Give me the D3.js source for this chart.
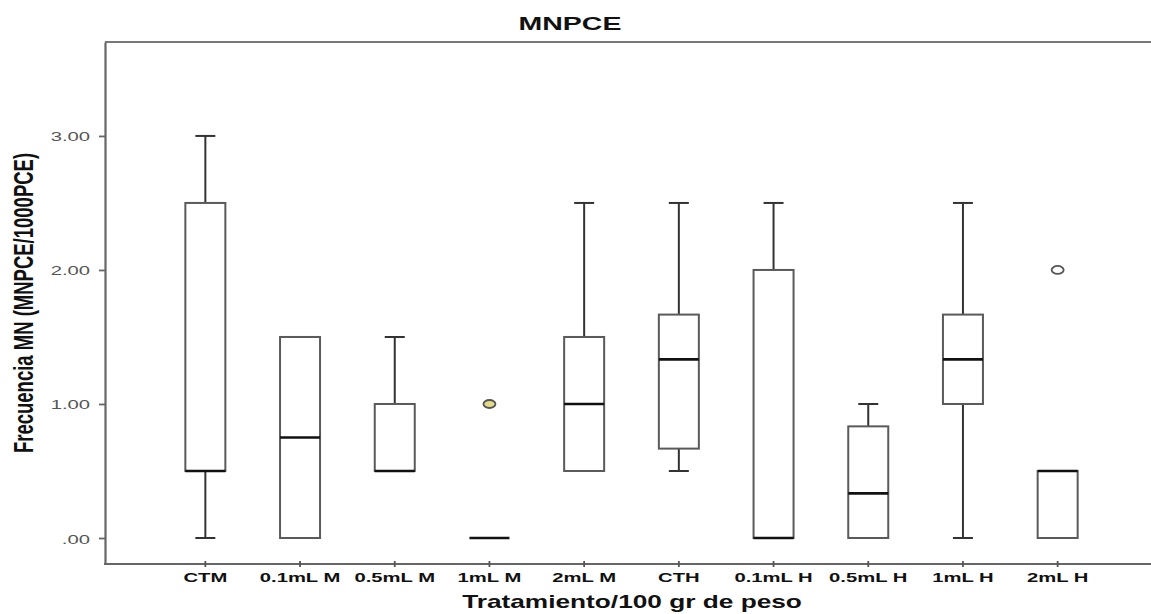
<!DOCTYPE html>
<html lang="es">
<head>
<meta charset="UTF-8">
<title>MNPCE</title>
<script src="https://d3js.org/d3.v7.min.js"></script>
<style>
  * { margin: 0; padding: 0; }
  body { background: #fff; font-family: Arial, 'Liberation Sans', sans-serif; }
  svg { display: block; }
</style>
</head>
<body>
<svg id="chart" width="1151" height="614"></svg>
<script>
// categorias y resumen de cada caja
const categories = ["CTM", "0.1mL M", "0.5mL M", "1mL M", "2mL M",
                    "CTH", "0.1mL H", "0.5mL H", "1mL H", "2mL H"];
const whiskerLow  = [0,   0,    0.5, 0, 0.5, 0.5,   0,   0,     0,     0];
const q1          = [0.5, 0,    0.5, 0, 0.5, 0.667, 0,   0,     1.0,   0];
const medians     = [0.5, 0.75, 0.5, 0, 1.0, 1.333, 0,   0.333, 1.333, 0.5];
const q3          = [2.5, 1.5,  1.0, 0, 1.5, 1.667, 2.0, 0.833, 1.667, 0.5];
const whiskerHigh = [3.0, 1.5,  1.5, 0, 2.5, 2.5,   2.5, 1.0,   2.5,   0.5];
// atipicos: [indice de categoria, valor]
const outliers = [[3, 1.0], [9, 2.0]];
const yTicks = [0, 1, 2, 3];
const yTickLabels = [".00", "1.00", "2.00", "3.00"];

const svg = d3.select("#chart");
const plotLeft = 105, plotTop = 42, plotBottom = 564, plotRight = 1151;
const stretch = 1.5; // la figura original esta estirada en horizontal

const y = d3.scaleLinear().domain([-0.194, 3.701]).range([plotBottom, plotTop]);
const x = d3.scaleBand().domain(categories).range([158, 1105]);
const cx = i => x(categories[i]) + x.bandwidth() / 2;
const boxW = 40, capW = 20;

// marco superior
svg.append("line").attr("x1", plotLeft).attr("x2", plotRight).attr("y1", plotTop).attr("y2", plotTop)
  .attr("stroke", "#777").attr("stroke-width", 2);

// eje Y
const gy = svg.append("g").attr("transform", `translate(${plotLeft},0)`)
  .call(d3.axisLeft(y).tickValues(yTicks).tickSize(6).tickSizeOuter(0)
    .tickFormat((d, i) => yTickLabels[i]));
gy.select(".domain").attr("stroke", "#666").attr("stroke-width", 2.2);
gy.selectAll(".tick line").attr("stroke", "#666").attr("stroke-width", 1.8);
gy.selectAll(".tick text")
  .attr("x", null).attr("dy", null)
  .attr("transform", `translate(-15,5) scale(${stretch},1)`)
  .attr("text-anchor", "end")
  .attr("fill", "#555").attr("font-size", 13.5).attr("font-family", "Arial, 'Liberation Sans', sans-serif");

// eje X
svg.append("line").attr("x1", plotLeft - 1).attr("x2", plotRight).attr("y1", plotBottom).attr("y2", plotBottom)
  .attr("stroke", "#666").attr("stroke-width", 2.2);
const gx = svg.append("g").attr("transform", `translate(0,${plotBottom})`)
  .call(d3.axisBottom(x).tickSize(3).tickSizeOuter(0));
gx.select(".domain").remove();
gx.selectAll(".tick line").attr("y1", -3).attr("stroke", "#555").attr("stroke-width", 1.8);
gx.selectAll(".tick text")
  .attr("y", null).attr("dy", null)
  .attr("transform", `translate(0,18) scale(${stretch},1)`)
  .attr("fill", "#111").attr("font-weight", "bold").attr("font-size", 13.5)
  .attr("font-family", "Arial, 'Liberation Sans', sans-serif");

// cajas
const g = svg.append("g");
categories.forEach((c, i) => {
  const xc = cx(i);
  const wc = "#333";
  if (whiskerHigh[i] > q3[i]) {
    g.append("line").attr("x1", xc).attr("x2", xc).attr("y1", y(q3[i])).attr("y2", y(whiskerHigh[i]))
      .attr("stroke", wc).attr("stroke-width", 2);
    g.append("line").attr("x1", xc - capW / 2).attr("x2", xc + capW / 2)
      .attr("y1", y(whiskerHigh[i])).attr("y2", y(whiskerHigh[i]))
      .attr("stroke", wc).attr("stroke-width", 2);
  }
  if (whiskerLow[i] < q1[i]) {
    g.append("line").attr("x1", xc).attr("x2", xc).attr("y1", y(q1[i])).attr("y2", y(whiskerLow[i]))
      .attr("stroke", wc).attr("stroke-width", 2);
    g.append("line").attr("x1", xc - capW / 2).attr("x2", xc + capW / 2)
      .attr("y1", y(whiskerLow[i])).attr("y2", y(whiskerLow[i]))
      .attr("stroke", wc).attr("stroke-width", 2);
  }
  if (q3[i] > q1[i]) {
    g.append("rect").attr("x", xc - boxW / 2).attr("y", y(q3[i]))
      .attr("width", boxW).attr("height", y(q1[i]) - y(q3[i]))
      .attr("fill", "#fff").attr("stroke", "#5a5a5a").attr("stroke-width", 2);
  }
  g.append("line").attr("x1", xc - boxW / 2).attr("x2", xc + boxW / 2)
    .attr("y1", y(medians[i])).attr("y2", y(medians[i]))
    .attr("stroke", "#111").attr("stroke-width", 2.6);
});

// atipicos
g.selectAll("ellipse").data(outliers).join("ellipse")
  .attr("cx", d => cx(d[0])).attr("cy", d => y(d[1]))
  .attr("rx", 6).attr("ry", 4)
  .attr("fill", d => d[0] === 3 ? "#e2dc8a" : "#fff")
  .attr("stroke", "#555").attr("stroke-width", 1.8);

// titulos
svg.append("text").attr("transform", `translate(570,30) scale(${stretch},1)`)
  .attr("text-anchor", "middle").attr("font-weight", "bold").attr("font-size", 19)
  .attr("fill", "#111").text("MNPCE");
svg.append("text").attr("transform", `translate(632,608) scale(${stretch},1)`)
  .attr("text-anchor", "middle").attr("font-weight", "bold").attr("font-size", 17.5)
  .attr("fill", "#111").text("Tratamiento/100 gr de peso");
svg.append("text").attr("transform", `translate(33,303) scale(${stretch},1) rotate(-90)`)
  .attr("text-anchor", "middle").attr("font-weight", "bold").attr("font-size", 18.5)
  .attr("fill", "#111").text("Frecuencia MN (MNPCE/1000PCE)");
</script>
</body>
</html>
